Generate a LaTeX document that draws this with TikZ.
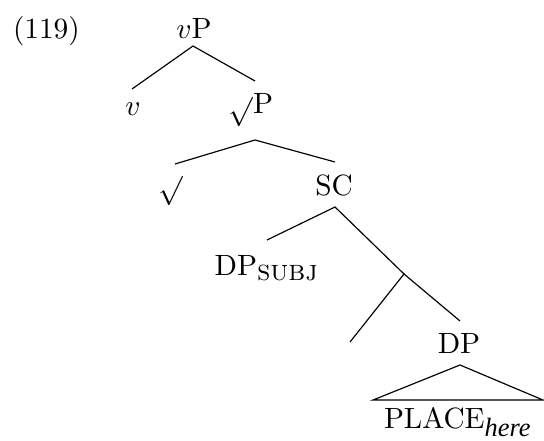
\documentclass[tikz,border=0pt]{standalone}
\usepackage{fontspec}
\newfontfamily\timesfam{Liberation Serif}
\begin{document}
\begin{tikzpicture}[x=0.341pt,y=-0.341pt,
  lab/.style={anchor=base,inner sep=0pt,outer sep=0pt},
  branch/.style={draw,line width=0.4pt}]
\useasboundingbox (0,0) rectangle (544,440);
% labels
\node[lab,anchor=base west] (ex) at (13,39) {(119)};
\node[lab] (vP) at (194,39) {$v$P};
\node[lab] (v) at (133,116) {$v$};
\node[lab] (rP) at (251,113) {$\sqrt{}$P};
\node[lab] (r) at (171,192) {$\sqrt{}$};
\node[lab] (SC) at (334,195) {SC};
\node[lab] (DPs) at (267,275) {DP$_{\mbox{\textsc{subj}}}$};
\node[lab] (DP) at (459,353) {DP};
\node[lab] (pl) at (458,428) {PLACE$_{\mbox{\fontsize{9}{10}\selectfont\timesfam\itshape here}}$};
% branch points
\coordinate (vPb) at (193,46);
\coordinate (vt) at (132,89);
\coordinate (rPt) at (255,81);
\coordinate (rPb) at (255,140);
\coordinate (rt) at (175,164);
\coordinate (SCt) at (335,162);
\coordinate (SCb) at (335,207);
\coordinate (DPst) at (267,240);
\coordinate (mid) at (404,274);
\coordinate (empt) at (350,342);
\coordinate (DPt) at (460,321);
\coordinate (DPb) at (460,365);
\coordinate (triL) at (373,400);
\coordinate (triR) at (543,400);
% connectors
\draw[branch] (vt) -- (vPb) -- (rPt);
\draw[branch] (rt) -- (rPb) -- (SCt);
\draw[branch] (DPst) -- (SCb) -- (mid);
\draw[branch] (empt) -- (mid) -- (DPt);
\draw[branch] (triL) -- (DPb) -- (triR) -- cycle;
\end{tikzpicture}
\end{document}
